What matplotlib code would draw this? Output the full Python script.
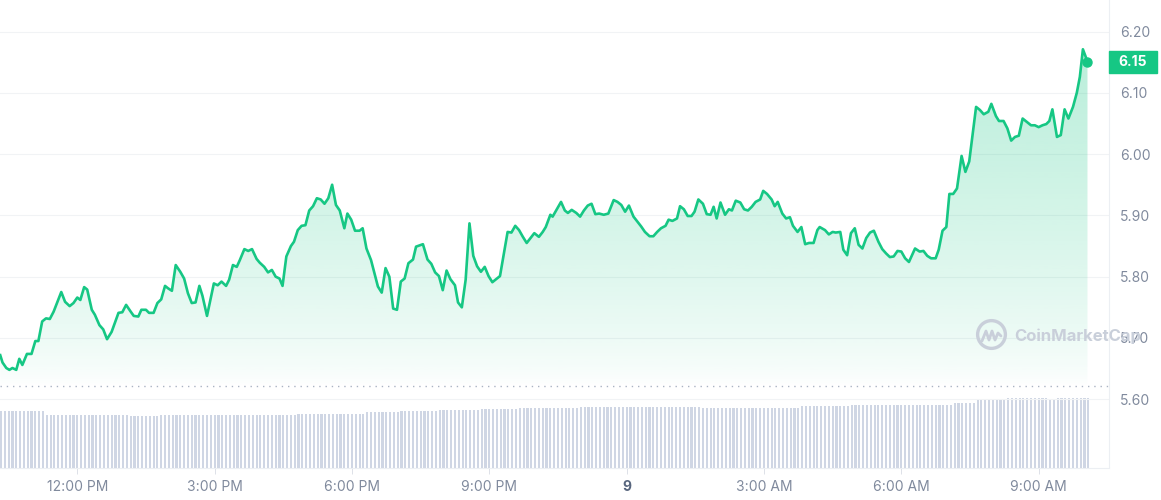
import numpy as np
import matplotlib.pyplot as plt
import matplotlib.transforms as mtransforms
from matplotlib.patches import Polygon, Rectangle
from matplotlib.colors import to_rgb

plt.rcParams['font.family'] = ['Inter', 'DejaVu Sans']

# price samples: minutes after 12:00 PM and price (USD)
times = [-101, -98, -93, -89, -85, -80, -76, -72, -66, -60, -55, -51, -46, -41, -36, -31, -21, -16, -10, -5,
         0, 4, 9, 13, 19, 23, 29, 34, 39, 45, 54, 59, 64, 70, 74, 80, 84, 90, 94, 100,
         105, 110, 115, 119, 124, 129, 135, 140, 145, 150, 155, 160, 164, 170, 179, 184, 189, 195, 199, 204,
         209, 213, 219, 224, 229, 235, 239, 245, 250, 255, 260, 265,
         269, 274, 280, 284, 289, 294, 299, 304, 309, 314, 319, 324, 329, 334, 339, 344, 350, 354, 359, 364,
         370, 374, 379, 385, 389, 394, 399, 404, 409, 414, 419, 424, 429, 434, 440, 444, 453, 459, 464, 469,
         474, 479, 484, 489, 495, 499, 504, 509, 514, 519, 524, 529, 534, 539, 544, 550, 554, 564, 569, 574,
         579, 584, 589, 594, 599, 605, 610, 614, 620,
         623, 628, 634, 639, 643, 648, 654, 659, 664, 669, 674, 679, 684, 690, 696, 703, 708, 713, 718, 723,
         729, 734, 739, 744, 750, 755, 760, 765, 771, 775, 780, 786, 790, 795, 800, 805, 809, 814, 820, 825,
         830, 834, 838, 843, 849, 854, 858, 863, 869, 874, 879, 884, 889, 895, 899, 904, 910, 914, 918, 924,
         929, 934, 938, 944, 949, 954, 959, 965, 970, 973,
         980, 985, 990, 994, 1000, 1004, 1009, 1014, 1019, 1024, 1029, 1034, 1039, 1044, 1050, 1055, 1060, 1065, 1070, 1075,
         1080, 1085, 1090, 1094, 1098, 1104, 1109, 1114, 1119, 1125, 1129, 1134, 1139, 1143, 1148, 1153, 1159, 1164, 1169, 1178,
         1183, 1188, 1194, 1198, 1204, 1208, 1214, 1219, 1224, 1229, 1234, 1239, 1244, 1250, 1255, 1260, 1265, 1270, 1274, 1278,
         1284, 1289, 1294, 1299, 1305, 1310, 1314, 1318, 1324]
prices = [5.672, 5.660, 5.651, 5.648, 5.651, 5.648, 5.666, 5.656, 5.674, 5.674, 5.695, 5.695, 5.727, 5.732, 5.731, 5.743, 5.775, 5.759, 5.752, 5.757,
          5.766, 5.762, 5.783, 5.779, 5.746, 5.738, 5.721, 5.714, 5.698, 5.710, 5.741, 5.742, 5.754, 5.743, 5.736, 5.735, 5.746, 5.746, 5.741, 5.741,
          5.757, 5.763, 5.785, 5.781, 5.777, 5.819, 5.808, 5.797, 5.773, 5.757, 5.758, 5.785, 5.769, 5.736, 5.789, 5.786, 5.792, 5.785, 5.795, 5.819,
          5.816, 5.827, 5.845, 5.842, 5.845, 5.829, 5.823, 5.816, 5.807, 5.811, 5.800, 5.797,
          5.785, 5.833, 5.850, 5.857, 5.876, 5.883, 5.884, 5.908, 5.915, 5.928, 5.926, 5.919, 5.928, 5.950, 5.917, 5.908, 5.879, 5.903, 5.893, 5.875,
          5.875, 5.879, 5.846, 5.827, 5.808, 5.784, 5.774, 5.814, 5.800, 5.748, 5.746, 5.792, 5.797, 5.822, 5.828, 5.849, 5.853, 5.828, 5.821, 5.807,
          5.801, 5.778, 5.810, 5.796, 5.786, 5.758, 5.750, 5.795, 5.887, 5.834, 5.817, 5.808, 5.816, 5.801, 5.791, 5.797, 5.801, 5.873, 5.872, 5.883,
          5.876, 5.865, 5.855, 5.863, 5.871, 5.865, 5.873, 5.881, 5.901,
          5.898, 5.909, 5.922, 5.908, 5.904, 5.909, 5.904, 5.898, 5.908, 5.916, 5.919, 5.902, 5.903, 5.901, 5.903, 5.925, 5.922, 5.917, 5.906, 5.916,
          5.898, 5.890, 5.882, 5.873, 5.866, 5.866, 5.873, 5.879, 5.883, 5.893, 5.891, 5.895, 5.915, 5.910, 5.899, 5.899, 5.906, 5.926, 5.919, 5.902,
          5.901, 5.914, 5.895, 5.921, 5.901, 5.910, 5.908, 5.924, 5.921, 5.910, 5.908, 5.914, 5.922, 5.926, 5.940, 5.935, 5.926, 5.915, 5.922, 5.903,
          5.895, 5.897, 5.883, 5.873, 5.881, 5.853, 5.855, 5.855, 5.876, 5.881,
          5.876, 5.869, 5.873, 5.872, 5.873, 5.844, 5.835, 5.871, 5.879, 5.852, 5.846, 5.863, 5.872, 5.875, 5.857, 5.845, 5.838, 5.832, 5.833, 5.842,
          5.841, 5.830, 5.824, 5.835, 5.846, 5.841, 5.842, 5.834, 5.830, 5.830, 5.844, 5.875, 5.881, 5.935, 5.935, 5.944, 5.997, 5.971, 5.988, 6.077,
          6.072, 6.065, 6.069, 6.082, 6.062, 6.054, 6.054, 6.042, 6.022, 6.028, 6.030, 6.058, 6.053, 6.047, 6.047, 6.044, 6.047, 6.049, 6.054, 6.073,
          6.028, 6.031, 6.073, 6.058, 6.077, 6.100, 6.126, 6.171, 6.151]

# volume bars (5 minute bars from 10:20 AM), stored as runs of equal level
vol_levels = [113, 106, 105, 103.6, 105, 106, 107.6, 110.4, 114, 116, 118, 120, 121, 119.6,
              122.4, 124.4, 128.4, 134.4, 138.4, 135.6, 138.4]
vol_counts = [12, 9, 13, 8, 23, 13, 18, 9, 10, 11, 10, 16, 32, 26, 13, 27, 6, 8, 11, 2, 9]
vol_start = -100

ref_price = 5.622
xtick_pos = [0, 180, 360, 540, 720, 900, 1080, 1260]
xtick_labels = ['12:00 PM', '3:00 PM', '6:00 PM', '9:00 PM', '9', '3:00 AM', '6:00 AM', '9:00 AM']
ytick_pos = [5.6, 5.7, 5.8, 5.9, 6.0, 6.1, 6.2]

GREEN = '#16c784'
GREY = '#808a9d'
xlim = (-101.3, 1352.2)
ylim = (5.4887, 6.2514)

fig = plt.figure(figsize=(11.61, 5.0), dpi=100)
rect = [0, 0.065, 1109 / 1161, 0.935]
ax_vol = fig.add_axes(rect, zorder=1)
ax = fig.add_axes(rect, zorder=2)
ax.patch.set_visible(False)

# volume
vol = np.repeat(vol_levels, vol_counts)
vol_times = vol_start + 5 * np.arange(len(vol))
ax_vol.bar(vol_times, vol, width=2.8, color='#cfd6e4', linewidth=0)
ax_vol.set_xlim(xlim)
ax_vol.set_ylim(0, 935)
ax_vol.axis('off')

# gradient area under the price line
verts = list(zip(times, prices)) + [(times[-1], ylim[0]), (times[0], ylim[0])]
area = Polygon(verts, closed=True, facecolor='none', edgecolor='none')
ax.add_patch(area)
yy = np.linspace(ylim[0], ylim[1], 400)
img = np.zeros((400, 1, 4))
img[..., :3] = to_rgb(GREEN)
img[:, 0, 3] = 0.3 * np.clip((yy - 5.62) / (6.18 - 5.62), 0, 1) ** 0.7
im = ax.imshow(img, extent=[xlim[0], xlim[1], ylim[0], ylim[1]], origin='lower',
               aspect='auto', interpolation='bilinear', zorder=3)
im.set_clip_path(area)

ax.plot(times, prices, color=GREEN, lw=1.9, solid_joinstyle='round', zorder=4)
ax.plot(times[-1], prices[-1], 'o', ms=6.5, color=GREEN, zorder=5, clip_on=False)
ax.axhline(ref_price, color='#aab3c3', lw=1, ls=(0, (1, 3.5)), zorder=2)

ax.set_xlim(xlim)
ax.set_ylim(ylim)

# axes styling
for s in ['top', 'left']:
    ax.spines[s].set_visible(False)
for s in ['right', 'bottom']:
    ax.spines[s].set_color('#eceff3')
    ax.spines[s].set_linewidth(0.8)
ax.yaxis.tick_right()
ax.set_yticks(ytick_pos)
ax.set_yticklabels([f'{v:.2f}' for v in ytick_pos])
ax.tick_params(axis='y', length=0, pad=8, labelsize=10, labelcolor=GREY)
ax.grid(axis='y', color='#f1f3f5', lw=0.8)
ax.set_axisbelow(True)
ax.set_xticks(xtick_pos)
ax.set_xticklabels(xtick_labels)
ax.tick_params(axis='x', length=4, width=0.7, color='#dde1e8', pad=5, labelsize=10, labelcolor=GREY)
day_label = ax.get_xticklabels()[4]
day_label.set_fontweight('bold')
day_label.set_color('#58667e')

# current price tag
trans = mtransforms.blended_transform_factory(ax.transAxes, ax.transData)
tag_h = 22 * (ylim[1] - ylim[0]) / 467.5
ax.add_patch(Rectangle((1.0, prices[-1] - tag_h / 2), 48 / 1109, tag_h, transform=trans,
                       color=GREEN, clip_on=False, zorder=6))
ax.text(1.0 + 24 / 1109, prices[-1], f'{prices[-1]:.2f}', transform=trans, color='white',
        fontweight='bold', fontsize=10, ha='center', va='center', zorder=7, clip_on=False)

# watermark
wm = '#c9cfda'
ax.plot([991 / 1109], [1 - 334 / 467.5], 'o', ms=20, mfc='none', mec=wm, mew=2.4,
        transform=ax.transAxes, zorder=6, clip_on=False)
mx = np.array([982, 986, 989, 992, 995, 998, 1001]) / 1109
my = 1 - np.array([341, 331, 340, 331, 340, 333, 336]) / 467.5
ax.plot(mx, my, color=wm, lw=2, transform=ax.transAxes, zorder=6, clip_on=False,
        solid_joinstyle='round', solid_capstyle='round')
ax.text(1014 / 1109, 1 - 336 / 467.5, 'CoinMarketCap', transform=ax.transAxes, color=wm,
        fontsize=12, fontweight='bold', ha='left', va='center', zorder=6, clip_on=False)

fig.savefig('out.png', dpi=100)
